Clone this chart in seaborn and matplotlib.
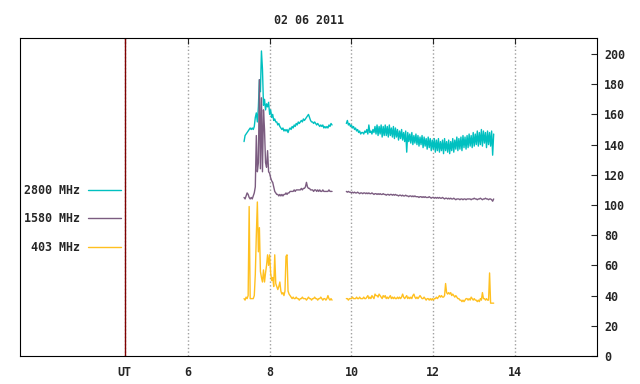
import numpy as np
import pandas as pd
import matplotlib
matplotlib.use("Agg")
import matplotlib.pyplot as plt
import seaborn as sns

# --- data ---
title = "02 06 2011"
bands = ["2800 MHz", "1580 MHz", "403 MHz"]
colors = ["#00c0c0", "#7b5c80", "#ffc020"]

# sample times: two recording segments, 0.025 h cadence
seg1_start = 7.375
seg2_start = 9.875
step = 0.025

f2800_a = [
    142, 146, 147, 148, 149, 150, 151, 150, 151, 150,
    152, 158, 161, 155, 165, 183, 175, 202, 190, 166,
    170, 163, 167, 165, 168, 160, 163, 158, 160, 156,
    157, 155, 155, 153, 154, 152, 151, 150, 151, 149,
    150, 149, 150, 148, 150, 151, 150, 152, 151, 153,
    152, 154, 153, 155, 154, 155, 156, 155, 157, 156,
    157, 158, 159, 160, 158, 156, 155, 155, 154, 155,
    154, 153, 154, 153, 152, 153, 152, 153, 151, 152,
    151, 152, 151, 153, 152, 154, 153,
]
f2800_b = [
    154, 156, 153, 154, 152, 153, 151, 152, 150, 151,
    149, 150, 148, 149, 147, 148, 148, 147, 149, 148,
    150, 147, 153, 148, 149, 147, 150, 148, 152, 147,
    153, 146, 152, 147, 153, 145, 152, 146, 153, 146,
    152, 145, 153, 146, 151, 145, 152, 144, 151, 145,
    150, 143, 149, 144, 150, 143, 148, 142, 149, 135,
    148, 142, 147, 141, 148, 140, 146, 141, 147, 140,
    146, 139, 145, 140, 146, 138, 145, 139, 144, 137,
    145, 138, 144, 136, 143, 137, 144, 135, 143, 136,
    144, 135, 142, 136, 143, 134, 144, 136, 142, 135,
    143, 134, 142, 136, 144, 135, 143, 137, 145, 136,
    144, 137, 145, 136, 146, 138, 145, 137, 146, 138,
    147, 139, 146, 138, 148, 139, 147, 140, 149, 139,
    148, 140, 150, 139, 149, 141, 148, 138, 149, 140,
    148, 139, 149, 133, 147,
]

f1580_a = [
    105, 104, 106, 108, 107, 105, 104, 105, 104, 106,
    108, 112, 146, 122, 128, 183, 124, 171, 122, 163,
    150, 128, 125, 136, 122, 121, 118, 116, 115, 112,
    109, 108, 107, 107, 106, 107, 106, 107, 106, 107,
    107, 108, 107, 108, 108, 109, 109, 109, 109, 110,
    109, 110, 110, 110, 110, 110, 111, 110, 111, 111,
    112, 115, 112, 111, 111, 110, 110, 110, 109, 110,
    110, 109, 110, 109, 110, 109, 109, 110, 109, 109,
    109, 109, 109, 110, 109, 109, 109,
]
f1580_b = [
    109, 108.5, 109, 108.5, 108.5, 108, 108.5, 108, 108.5, 108,
    108, 108.5, 108, 107.5, 108, 108, 107.5, 108, 108, 107.5,
    108, 107.5, 108, 107.5, 107.5, 108, 107.5, 107, 107.5, 107.5,
    107, 107.5, 107, 107.5, 107, 107, 107.5, 107, 107, 106.5,
    107, 107, 106.5, 107, 107, 106.5, 107, 106.5, 107, 106.5,
    106.5, 106, 106.5, 106.5, 106, 106.5, 106, 106, 106.5, 106,
    106, 105.5, 106, 106, 105.5, 106, 105.5, 106, 105.5, 105.5,
    105.5, 105, 105.5, 105.5, 105, 105.5, 105, 105.5, 105, 105,
    105, 105.5, 105, 104.5, 105, 105, 104.5, 105, 104.5, 105,
    104.5, 105, 104.5, 104.5, 105, 104.5, 104, 104.5, 104.5, 104,
    104.5, 104, 104.5, 104, 104, 104.5, 104, 103.5, 104, 104,
    104, 103.5, 104, 104, 103.5, 104, 104, 103.5, 104, 104,
    104, 104, 103.5, 104, 104, 104.5, 104, 104, 103.5, 104,
    104, 104.5, 104, 103.5, 104, 104, 104.5, 104, 104, 103.5,
    104, 104, 103.5, 102.5, 104,
]

f403_a = [
    38, 37, 39, 38, 40, 99, 38, 38, 38, 38,
    40, 54, 80, 102, 69, 85, 56, 52, 49, 57,
    49, 55, 60, 67, 60, 67, 55, 50, 52, 46,
    67, 48, 46, 44, 46, 49, 43, 41, 42, 40,
    43, 66, 67, 43, 41, 40, 39, 38, 39, 38,
    38, 39, 38, 38, 37, 38, 38, 39, 38, 38,
    38, 37, 38, 39, 38, 38, 37, 38, 38, 39,
    38, 38, 37, 38, 38, 39, 38, 37, 38, 38,
    37, 38, 40, 38, 37, 38, 37,
]
f403_b = [
    38, 38, 37, 38, 38, 38, 39, 38, 38, 38,
    39, 38, 38, 39, 38, 38, 38, 39, 38, 38,
    39, 40, 38, 39, 38, 40, 39, 38, 41, 40,
    40, 39, 41, 40, 39, 38, 40, 39, 40, 38,
    39, 38, 39, 40, 38, 39, 38, 39, 38, 38,
    39, 38, 39, 38, 39, 41, 39, 38, 39, 40,
    38, 39, 38, 39, 38, 40, 41, 39, 38, 39,
    38, 39, 40, 39, 38, 38, 39, 38, 37, 38,
    38, 37, 38, 37, 38, 37, 38, 38, 39, 38,
    39, 40, 39, 40, 39, 39, 40, 48, 42, 41,
    42, 41, 42, 40, 41, 40, 39, 40, 39, 38,
    38, 37, 37, 36, 37, 36, 37, 38, 38, 37,
    38, 37, 39, 38, 37, 38, 37, 37, 36, 37,
    36, 38, 37, 42, 38, 38, 37, 38, 37, 37,
    55, 35, 35, 35, 35,
]

ut_line = 4.46
xticks = [ut_line, 6, 8, 10, 12, 14]
xticklabels = ["UT", "6", "8", "10", "12", "14"]
yticks = list(range(0, 201, 20))

# --- long table ---
frames = []
series = zip(bands, [f2800_a, f1580_a, f403_a], [f2800_b, f1580_b, f403_b])
for band, va, vb in series:
    for seg, (t0, vals) in enumerate([(seg1_start, va), (seg2_start, vb)]):
        frames.append(pd.DataFrame({
            "ut": t0 + step * np.arange(len(vals)),
            "flux": vals,
            "band": band,
            "seg": seg,
        }))
df = pd.concat(frames, ignore_index=True)

# --- plot ---
sns.set_style("white")
plt.rcParams["font.family"] = ["DejaVu Sans Mono"]
plt.rcParams["font.weight"] = "bold"
fs = 8.4

fig, ax = plt.subplots(figsize=(6.4, 3.84), dpi=100)
fig.subplots_adjust(left=20 / 640, right=597 / 640,
                    top=1 - 38 / 384, bottom=1 - 356 / 384)

sns.lineplot(data=df, x="ut", y="flux", hue="band", hue_order=bands,
             palette=colors, units="seg", estimator=None, sort=False,
             lw=1, ax=ax)

ax.axvline(ut_line, color="#800000", lw=1)

ax.set_xlim(1.9, 16)
ax.set_ylim(0, 210.6)
ax.set_xticks(xticks)
ax.set_xticklabels(xticklabels)
ax.set_yticks(yticks)
ax.yaxis.tick_right()
ax.tick_params(axis="y", direction="in", length=4.5, width=0.8,
               left=False, right=True, labelsize=fs, pad=5)
ax.tick_params(axis="x", direction="in", length=4.5, width=0.8,
               top=True, labelsize=fs, pad=7)
ax.grid(axis="x", ls=":", color="#a0a0a0", lw=1)
ax.set_xlabel("")
ax.set_ylabel("")
for s in ax.spines.values():
    s.set_color("black")
    s.set_linewidth(0.8)

ax.set_title(title, fontsize=fs, fontweight="bold", pad=10)

handles, labels = ax.get_legend_handles_labels()
ax.legend(handles, labels, loc="upper right", bbox_to_anchor=(0.175, 0.54),
          frameon=False, markerfirst=False, handlelength=2.8,
          handletextpad=0.7, labelspacing=1.3, borderpad=0,
          borderaxespad=0, fontsize=fs)

fig.savefig("out.png", dpi=100)
